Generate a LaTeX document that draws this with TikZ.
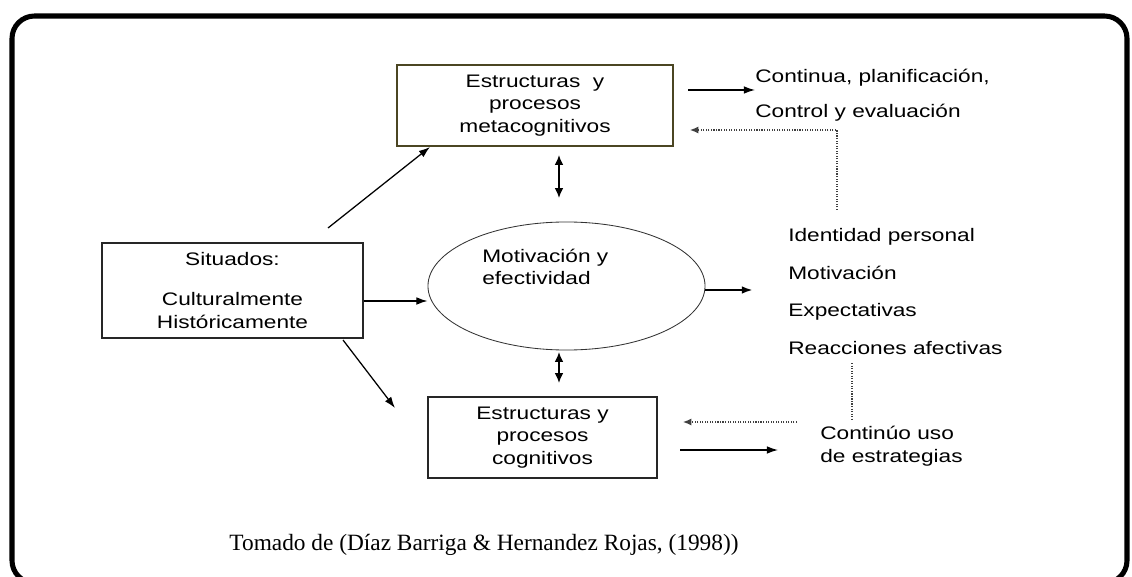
\documentclass[tikz,border=0pt]{standalone}
\usepackage{fontspec}
\setmainfont{Liberation Serif}
\newfontfamily\cajafont{Liberation Sans}[FakeStretch=1.25]
\usetikzlibrary{shapes.geometric,arrows.meta}

\tikzset{
	caja/.style={draw=black!85, line width=0.9pt, align=center, inner sep=0pt},
	texto/.style={font=\cajafont\fontsize{12.9}{16.2}\selectfont, inner sep=0pt},
	flecha/.style={line width=0.9pt, -{Latex[length=8pt,width=5.5pt]}},
	doble/.style={line width=0.9pt, {Latex[length=7pt,width=6pt]}-{Latex[length=7pt,width=6pt]}},
	punteada/.style={line width=0.8pt, densely dotted, black!75},
}

\begin{document}
\begin{tikzpicture}[x=0.025cm, y=-0.025cm]
			%%%%% START %%%%%
			
			\useasboundingbox (0, 0) rectangle (1132, 577);
			\draw[line width=3.6pt, rounded corners=16pt] (12, 16) rectangle (1127, 583);
			
			% cajas
			\node[caja, texto, draw={rgb,255:red,75;green,70;blue,35}, minimum width=6.9cm, minimum height=2.025cm] (meta) at (535, 105.5) {Estructuras~ y\\procesos\\metacognitivos};
			\node[caja, texto, minimum width=5.725cm, minimum height=2.025cm] (cogn) at (542.5, 437.5) {Estructuras y\\procesos\\cognitivos};
			\node[caja, texto, minimum width=6.525cm, minimum height=2.375cm] (sit) at (232.5, 290.5) {Situados:\\[12pt]Culturalmente\\Históricamente};
			
			\node[draw=black!80, line width=0.6pt, ellipse, minimum width=6.925cm, minimum height=3.2cm, inner sep=0pt] (motiv) at (566.5, 286) {};
			\node[texto, align=left, anchor=west] (motivtxt) at (482, 267) {Motivación y\\efectividad};
			
			% textos de la derecha
			\node[texto, anchor=west] (cont) at (755, 78) {Continua, planificación,};
			\node[texto, anchor=west] (control) at (755, 113) {Control y evaluación};
			\node[texto, anchor=west] (ident) at (788, 237) {Identidad personal};
			\node[texto, anchor=west] (motivacion) at (788, 273) {Motivación};
			\node[texto, anchor=west] (expect) at (788, 312) {Expectativas};
			\node[texto, anchor=west] (reacc) at (788, 348) {Reacciones afectivas};
			\node[texto, align=left, anchor=west] (uso) at (820, 446) {Continúo uso\\de estrategias};
			
			\node[font=\fontsize{16.6}{20}\selectfont, inner sep=0pt] (fuente) at (484, 545) {Tomado de (Díaz Barriga \& Hernandez Rojas, (1998))};
			
			% puntos de las flechas
			\coordinate (s1) at (328, 228);
			\coordinate (m1) at (430, 147);
			\coordinate (s2) at (343, 340);
			\coordinate (c1) at (395, 408);
			\coordinate (e1) at (753, 290);
			\coordinate (a1) at (688, 90);
			\coordinate (p1) at (837, 210);
			\coordinate (p2) at (837, 130);
			\coordinate (p3) at (690, 130);
			\coordinate (q1) at (852, 363);
			\coordinate (q2) at (852, 420);
			\coordinate (q3) at (797, 422);
			\coordinate (q4) at (683, 422);
			\coordinate (b1) at (680, 450);
			\coordinate (b2) at (778, 450);
			
			% flechas
			\draw[flecha] (s1) -- (m1);
			\draw[flecha] (s2) -- (c1);
			\draw[flecha] (sit.east |- 0, 301) -- (motiv.west |- 0, 301);
			\draw[flecha, line width=1.8pt] (motiv.east |- e1) -- (e1);
			\draw[doble] (559, 155) -- (559, 198);
			\draw[doble] (559, 352) -- (559, 383);
			\draw[flecha] (a1) -- (a1 -| cont.west);
			\draw[flecha] (b1) -- (b2);
			
			% punteadas
			\draw[punteada, -{Latex[length=6pt,width=5pt]}] (p1) -- (p2) -- (p3);
			\draw[punteada] (q1) -- (q2);
			\draw[punteada, -{Latex[length=6pt,width=5pt]}] (q3) -- (q4);
			
			%%%%% END %%%%%
\end{tikzpicture}
\end{document}
